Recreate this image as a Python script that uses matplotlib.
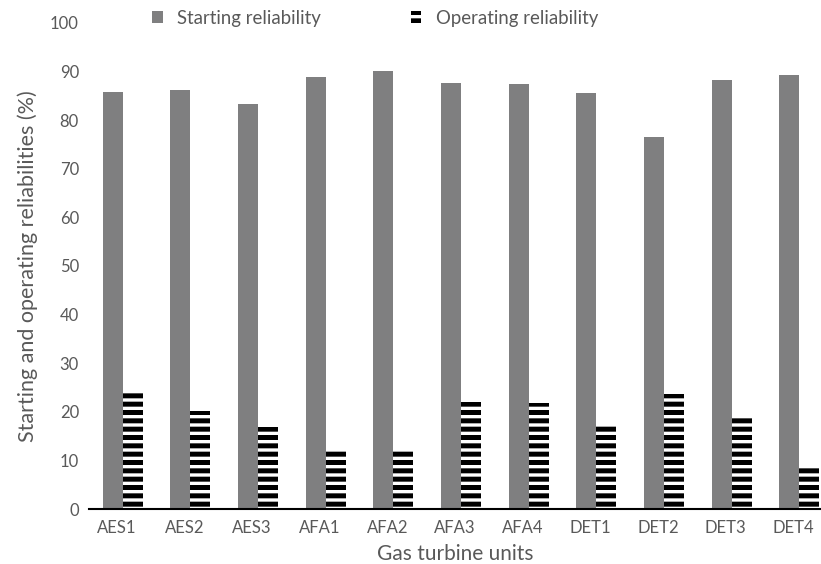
import matplotlib.pyplot as plt
import matplotlib.patches as mpatches
import numpy as np

plt.rcParams['font.family'] = ['Lato', 'DejaVu Sans']
plt.rcParams['hatch.linewidth'] = 3.6

units = ["AES1", "AES2", "AES3", "AFA1", "AFA2", "AFA3", "AFA4",
         "DET1", "DET2", "DET3", "DET4"]
starting = [85.8, 86.2, 83.4, 88.9, 90.1, 87.7, 87.5, 85.6, 76.6, 88.3, 89.3]
operating = [23.8, 20.1, 16.8, 12.1, 12.2, 22.0, 21.8, 17.2, 23.6, 18.9, 9.0]

text_gray = "#595959"
bar_gray = "#7f7f80"

fig = plt.figure(figsize=(8.21, 5.64), dpi=100)
ax = fig.add_axes([0.108, 0.0975, 0.892, 0.862])

x = np.arange(len(units))
w = 0.296
ax.bar(x - 0.207, starting, width=w, align='edge', color=bar_gray, linewidth=0)
ax.bar(x + 0.089, operating, width=w, align='edge', color="white",
       edgecolor="black", hatch="--", linewidth=0)

ax.set_xlim(-0.414, 10.41)
ax.set_ylim(0, 100)
ax.set_yticks(range(0, 101, 10))
ax.set_xticks(x)
ax.set_xticklabels(units)
ax.tick_params(axis='both', length=0, labelsize=12, colors=text_gray, pad=8)
ax.tick_params(axis='y', pad=7)
for s in ["top", "right", "left"]:
    ax.spines[s].set_visible(False)
ax.spines["bottom"].set_linewidth(1.5)
ax.spines["bottom"].set_color("black")

ax.set_xlabel("Gas turbine units", fontsize=15, color=text_gray, labelpad=6)
ax.set_ylabel("Starting and operating reliabilities (%)", fontsize=15.5,
              color=text_gray, labelpad=9)

h1 = mpatches.Patch(facecolor=bar_gray, linewidth=0, label="Starting reliability")
h2 = mpatches.Patch(facecolor="white", edgecolor="black", hatch="--",
                    linewidth=0, label="Operating reliability")
fig.legend(handles=[h1, h2], loc="center", bbox_to_anchor=(0.457, 0.968),
           ncol=2, frameon=False, fontsize=13.4, labelcolor=text_gray,
           handlelength=0.55, handleheight=0.55, columnspacing=4.8,
           handletextpad=0.8)

fig.savefig("out.png", dpi=100)
